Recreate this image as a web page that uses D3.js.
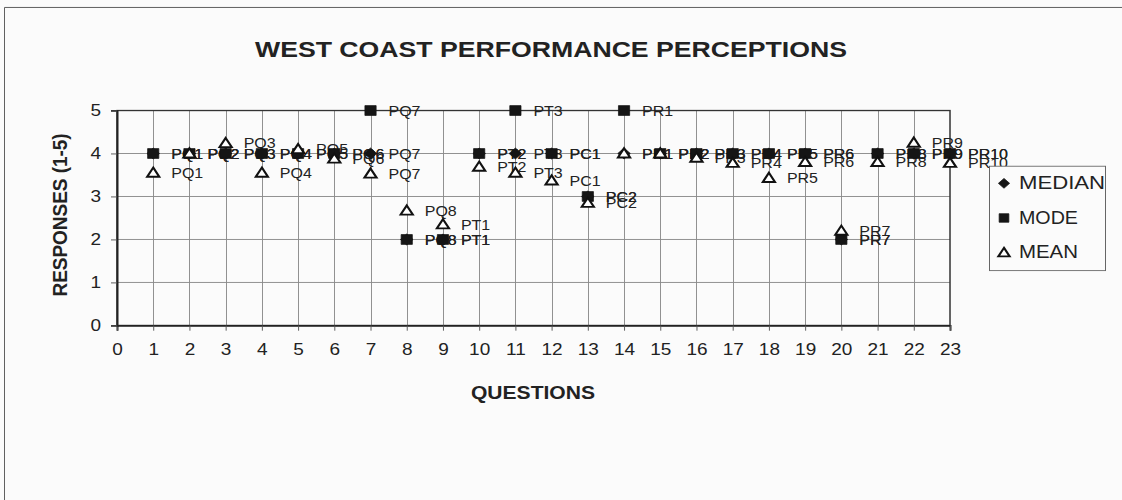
<!DOCTYPE html>
<html>
<head>
<meta charset="utf-8">
<script src="https://cdn.jsdelivr.net/npm/d3@7"></script>
<style>
  html, body { margin: 0; padding: 0; background: #fbfbfb; }
  svg { display: block; }
  text { font-family: "Liberation Sans", Arial, sans-serif; fill: #222; }
</style>
</head>
<body>
<svg id="chart" width="1122" height="500"></svg>
<script>
// Question identifiers and their positions along the x axis
const questions = ["PQ1","PQ2","PQ3","PQ4","PQ5","PQ6","PQ7","PQ8","PT1","PT2","PT3",
                   "PC1","PC2","PR1","PR2","PR3","PR4","PR5","PR6","PR7","PR8","PR9","PR10"];
const questionNumbers = [1,2,3,4,5,6,7,8,9,10,11,12,13,14,15,16,17,18,19,20,21,22,23];

// Summary statistics of the responses for each question
const medianValues = [4,4,4,4,4,4,4,2,2,4,4,4,3,4,4,4,4,4,4,2,4,4,4];
const modeValues   = [4,4,4,4,4,4,5,2,2,4,5,4,3,5,4,4,4,4,4,2,4,4,4];
const meanValues   = [3.55,4.0,4.24,3.55,4.1,3.88,3.53,2.67,2.35,3.69,3.55,3.37,2.85,
                      4.0,4.0,3.9,3.78,3.43,3.8,2.2,3.8,4.25,3.78];

// Axis ticks
const xTickValues = [0,1,2,3,4,5,6,7,8,9,10,11,12,13,14,15,16,17,18,19,20,21,22,23];
const yTickValues = [0,1,2,3,4,5];

const seriesNames = ["MEDIAN","MODE","MEAN"];

const W = 1122, H = 570;   // drawing space, shown squeezed into the 500px-high page
const svg = d3.select("#chart");
const root = svg.append("g").attr("transform", `scale(1,${500 / H})`);

// Chart frame: only its left and top edges fall inside the page
root.append("path")
  .attr("d", `M4.5,${H} V8.5 H${W}`)
  .attr("fill", "none").attr("stroke", "#555").attr("stroke-width", 1);

const x = d3.scaleLinear().domain([0, 23]).range([117, 950]);
const y = d3.scaleLinear().domain([0, 5]).range([371, 126]);

// Gridlines
const grid = root.append("g").attr("stroke", "#8a8a8a").attr("stroke-width", 1);
grid.selectAll("line.v").data(xTickValues.filter(d => d > 0 && d < 23)).join("line")
  .attr("x1", d => Math.round(x(d)) + 0.5).attr("x2", d => Math.round(x(d)) + 0.5)
  .attr("y1", y(5)).attr("y2", y(0));
grid.selectAll("line.h").data(yTickValues.filter(d => d > 0 && d < 5)).join("line")
  .attr("x1", x(0)).attr("x2", x(23))
  .attr("y1", d => y(d)).attr("y2", d => y(d));

// Plot frame
root.append("rect")
  .attr("x", x(0)).attr("y", y(5))
  .attr("width", x(23) - x(0)).attr("height", y(0) - y(5))
  .attr("fill", "none").attr("stroke", "#333").attr("stroke-width", 1.5);

// Axes
const xAxis = d3.axisBottom(x).tickValues(xTickValues).tickSize(6).tickPadding(14)
  .tickFormat(d3.format("d"));
const gx = root.append("g").attr("transform", `translate(0,${y(0)})`).call(xAxis);
gx.select(".domain").attr("stroke", "#222").attr("stroke-width", 2);
gx.selectAll(".tick line").attr("stroke", "#555");
gx.selectAll(".tick text").attr("font-size", 19).attr("fill", "#222")
  .attr("font-family", "Liberation Sans, Arial, sans-serif");

const yAxis = d3.axisLeft(y).tickValues(yTickValues).tickSize(6).tickPadding(10)
  .tickFormat(d3.format("d"));
const gy = root.append("g").attr("transform", `translate(${x(0)},0)`).call(yAxis);
gy.select(".domain").attr("stroke", "#222").attr("stroke-width", 2);
gy.selectAll(".tick line").attr("stroke", "#555");
gy.selectAll(".tick text").attr("font-size", 19).attr("fill", "#222")
  .attr("font-family", "Liberation Sans, Arial, sans-serif");

// Titles
root.append("text")
  .attr("x", 551).attr("y", 64.5).attr("text-anchor", "middle")
  .attr("font-size", 25).attr("font-weight", "bold")
  .attr("textLength", 592).attr("lengthAdjust", "spacingAndGlyphs")
  .text("WEST COAST PERFORMANCE PERCEPTIONS");

root.append("text")
  .attr("x", 533).attr("y", 455).attr("text-anchor", "middle")
  .attr("font-size", 20).attr("font-weight", "bold")
  .attr("textLength", 124).attr("lengthAdjust", "spacingAndGlyphs")
  .text("QUESTIONS");

root.append("text")
  .attr("transform", "translate(67,245) rotate(-90)")
  .attr("text-anchor", "middle")
  .attr("font-size", 20).attr("font-weight", "bold")
  .attr("textLength", 186).attr("lengthAdjust", "spacingAndGlyphs")
  .text("RESPONSES (1-5)");

// Marker symbols
const symbolFor = {
  MEDIAN: d3.symbol().type(d3.symbolDiamond2).size(100),
  MODE:   d3.symbol().type(d3.symbolSquare2).size(160),
  MEAN:   d3.symbol().type(d3.symbolTriangle2).size(105)
};
const styleMarker = (sel, name) => {
  if (name === "MEAN") sel.attr("fill", "#fff").attr("stroke", "#111").attr("stroke-width", 2.2);
  else sel.attr("fill", "#151515").attr("stroke", "#151515").attr("stroke-width", 0.8);
};

const series = [
  { name: "MEDIAN", values: medianValues },
  { name: "MODE",   values: modeValues },
  { name: "MEAN",   values: meanValues }
];

const pointsOf = s => s.values.map((v, i) => ({ q: questions[i], n: questionNumbers[i], v }));

// Data labels naming each question
const labels = root.append("g");
series.forEach(s => {
  labels.selectAll(null).data(pointsOf(s)).join("text")
    .attr("x", d => x(d.n) + 18)
    .attr("y", d => y(d.v) + 6)
    .attr("font-size", 16)
    .attr("fill", "#222")
    .text(d => d.q);
});

// Markers, drawn in series order
series.forEach(s => {
  const g = root.append("g");
  g.selectAll("path").data(pointsOf(s)).join("path")
    .attr("d", symbolFor[s.name])
    .attr("transform", d => `translate(${x(d.n)},${y(d.v) + (s.name === "MEAN" ? 1 : 0)})`)
    .call(styleMarker, s.name);
});

// Legend
const lg = root.append("g");
lg.append("rect")
  .attr("x", 989.5).attr("y", 189.5).attr("width", 116).attr("height", 119)
  .attr("fill", "#fbfbfb").attr("stroke", "#666").attr("stroke-width", 1);
const legendWidths = { MEDIAN: 86, MODE: 59, MEAN: 59 };
seriesNames.forEach((name, i) => {
  const cy = 208 + i * 39.5;
  lg.append("path")
    .attr("d", d3.symbol().type(name === "MEDIAN" ? d3.symbolDiamond2 : name === "MODE" ? d3.symbolSquare2 : d3.symbolTriangle2)
      .size(name === "MEDIAN" ? 80 : name === "MODE" ? 120 : 90))
    .attr("transform", `translate(1004,${cy + (name === "MEAN" ? 2 : 1)})`)
    .call(styleMarker, name);
  lg.append("text")
    .attr("x", 1019).attr("y", cy + 7.5)
    .attr("font-size", 20)
    .attr("textLength", legendWidths[name]).attr("lengthAdjust", "spacingAndGlyphs")
    .text(name);
});
</script>
</body>
</html>
